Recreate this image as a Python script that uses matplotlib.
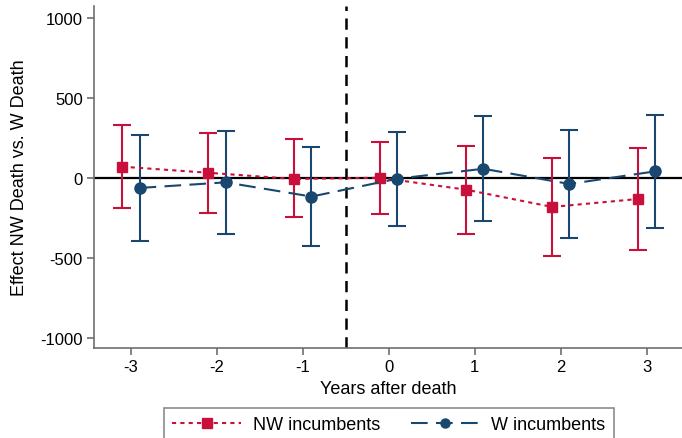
import matplotlib
matplotlib.use("Agg")
import matplotlib.pyplot as plt
from matplotlib.lines import Line2D
import numpy as np

plt.rcParams['font.family'] = ['Liberation Sans', 'DejaVu Sans']

years = [-3, -2, -1, 0, 1, 2, 3]
nw_est = [71, 33, -6, 2, -73, -181, -131]
nw_hi = [335, 282, 243, 224, 201, 125, 189]
nw_lo = [-189, -218, -247, -224, -349, -488, -451]
w_est = [-62, -27, -116, -4, 58, -37, 42]
w_hi = [272, 295, 193, 289, 386, 301, 394]
w_lo = [-397, -349, -424, -299, -266, -374, -312]
yticks = [1000, 500, 0, -500, -1000]

red = '#C8103A'
blue = '#1A476F'
gray = '#6E6E6E'

fig = plt.figure(figsize=(6.82, 4.39), dpi=100)
ax = fig.add_axes([94/682, 1-349/439, 1-94/682, (349-7)/439])

off = 0.1
xn = np.array(years) - off
xw = np.array(years) + off

ax.axhline(0, color='black', lw=1.6, zorder=1)
ax.axvline(-0.5, color='black', lw=1.8, ls=(0, (4.5, 3)), zorder=1)

ne = np.array(nw_est); nh = np.array(nw_hi); nl = np.array(nw_lo)
we = np.array(w_est); wh = np.array(w_hi); wl = np.array(w_lo)

ax.errorbar(xn, ne, yerr=[ne - nl, nh - ne], fmt='none', ecolor=red,
            elinewidth=1.5, capsize=6.5, capthick=1.5, zorder=2)
ax.errorbar(xw, we, yerr=[we - wl, wh - we], fmt='none', ecolor=blue,
            elinewidth=1.5, capsize=6.5, capthick=1.5, zorder=2)
ax.plot(xn, ne, color=red, lw=1.5, ls=(0, (2, 2)), marker='s', ms=7.5,
        mec=red, mfc=red, zorder=3)
ax.plot(xw, we, color=blue, lw=1.5, ls=(0, (8, 4)), marker='o', ms=8,
        mec=blue, mfc=blue, zorder=3)

ax.set_xlim(-3.43, 3.41)
ax.set_ylim(-1064, 1077)
ax.set_xticks(years)
ax.set_xticklabels([str(y) for y in years])
ax.set_yticks(yticks)
ax.set_yticklabels([str(y) for y in yticks])

for s in ['top', 'right']:
    ax.spines[s].set_visible(False)
for s in ['left', 'bottom']:
    ax.spines[s].set_color(gray)
    ax.spines[s].set_linewidth(1.2)
ax.tick_params(axis='both', direction='out', length=5, width=1.2, color=gray,
               labelsize=12, labelcolor='black', pad=3)

ax.set_xlabel('Years after death', fontsize=13, labelpad=4)
ax.set_ylabel('Effect NW Death vs. W Death', fontsize=13, labelpad=9)

handles = [
    Line2D([], [], color=red, lw=1.5, ls=(0, (2, 2)), marker='s', ms=7.5, mfc=red, mec=red),
    Line2D([], [], color=blue, lw=1.5, ls=(0, (8, 4)), marker='o', ms=6.5, mfc=blue, mec=blue),
]
leg = fig.legend(handles, ['NW incumbents', 'W incumbents'], loc='upper center',
                 bbox_to_anchor=(389/682, 1-408.7/439), ncol=2, fontsize=13,
                 frameon=True, fancybox=False, edgecolor=gray, handlelength=3.8,
                 columnspacing=1.7, borderpad=0.45, handletextpad=0.66,
                 borderaxespad=0)
leg.get_frame().set_linewidth(1.2)

fig.savefig('out.png', dpi=100)
